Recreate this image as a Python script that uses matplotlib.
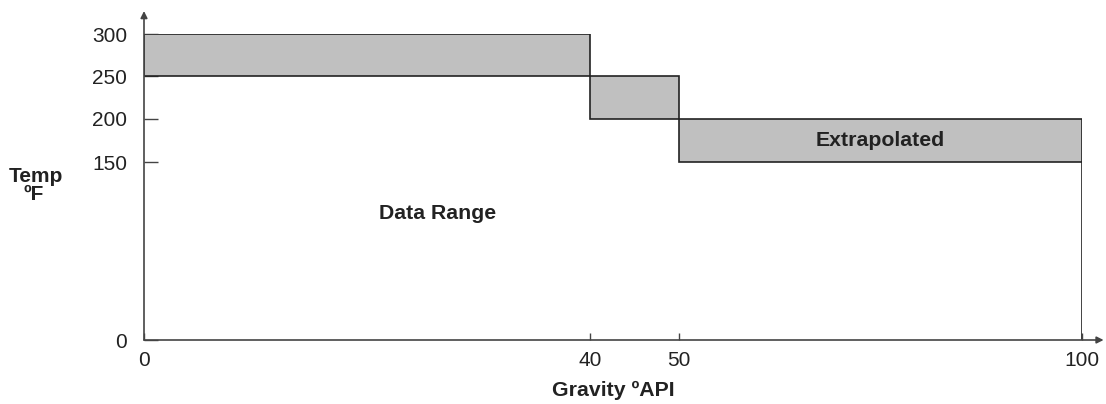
import numpy as np
import matplotlib
matplotlib.use("Agg")
import matplotlib.pyplot as plt
from matplotlib.patches import Rectangle

# ---- data ----
gravity_ticks = [0, 40, 50, 100]
temp_ticks = [0, 150, 200, 250, 300]
# ranges: (gravity_lo, gravity_hi, temp_lo, temp_hi)
range_gravity_lo = [0, 40, 50]
range_gravity_hi = [40, 50, 100]
range_temp_lo = [250, 200, 150]
range_temp_hi = [300, 250, 200]
label_data = "Data Range"
label_extra = "Extrapolated"

# ---- non-uniform axis scales (as drawn in the reference) ----
x_knots = np.array([0, 40, 50, 100], float)
x_pos = np.array([0, 446, 535, 938], float)
y_knots = np.array([0, 150, 200, 250, 300], float)
y_pos = np.array([0, 178, 221, 264, 306], float)


def pw(a, b):
    def f(v):
        v = np.asarray(v, float)
        out = np.interp(v, a, b)
        lo = v < a[0]
        hi = v > a[-1]
        s0 = (b[1] - b[0]) / (a[1] - a[0])
        s1 = (b[-1] - b[-2]) / (a[-1] - a[-2])
        out = np.where(lo, b[0] + (v - a[0]) * s0, out)
        out = np.where(hi, b[-1] + (v - a[-1]) * s1, out)
        return out
    return f


plt.rcParams['font.family'] = ['Liberation Sans', 'DejaVu Sans']
fig = plt.figure(figsize=(11.06, 4.04), dpi=100)
W, H = 1106, 404
ax = fig.add_axes([144 / W, (H - 340) / H, 938 / W, 306 / H])
ax.set_xscale('function', functions=(pw(x_knots, x_pos), pw(x_pos, x_knots)))
ax.set_yscale('function', functions=(pw(y_knots, y_pos), pw(y_pos, y_knots)))
ax.set_xlim(0, 100)
ax.set_ylim(0, 300)

for s in ax.spines.values():
    s.set_visible(False)

edge = '#222222'
for x0, x1, y0, y1 in zip(range_gravity_lo, range_gravity_hi, range_temp_lo, range_temp_hi):
    ax.add_patch(Rectangle((x0, y0), x1 - x0, y1 - y0, facecolor='#c0c0c0',
                           edgecolor=edge, linewidth=1.2, zorder=2))

# right boundary of extrapolated region down to the axis
ax.plot([range_gravity_hi[-1]] * 2, [0, range_temp_lo[-1]], color=edge, lw=1.2, zorder=2)

# axes with arrows
axis_col = '#444444'
ax.annotate('', xy=(1.023, 0), xytext=(0, 0), xycoords='axes fraction',
            arrowprops=dict(arrowstyle='-|>', color=axis_col, lw=1.2, mutation_scale=10,
                            shrinkA=0, shrinkB=0), annotation_clip=False)
ax.annotate('', xy=(0, 1.075), xytext=(0, 0), xycoords='axes fraction',
            arrowprops=dict(arrowstyle='-|>', color=axis_col, lw=1.2, mutation_scale=10,
                            shrinkA=0, shrinkB=0), annotation_clip=False)

ax.set_xticks(gravity_ticks)
ax.set_xticklabels([str(v) for v in gravity_ticks])
ax.set_yticks(temp_ticks)
ax.set_yticklabels([str(v) for v in temp_ticks])
ax.tick_params(axis='x', direction='in', length=5, width=1, color=axis_col,
               pad=8, labelsize=15, labelcolor='#222222')
ax.tick_params(axis='y', direction='in', length=10, width=1, color=axis_col,
               pad=12, labelsize=15, labelcolor='#222222')

ax.set_xlabel('Gravity ºAPI', fontsize=15.3, fontweight='bold', color='#222222', labelpad=8)

fig.text(36 / W, 1 - 177 / H, 'Temp', ha='center', va='center', fontsize=15,
         fontweight='bold', color='#222222')
fig.text(34 / W, 1 - 194 / H, 'ºF', ha='center', va='center', fontsize=15,
         fontweight='bold', color='#222222')

ax.text(26.3, 107, label_data, ha='center', va='center', fontsize=15.3,
        fontweight='bold', color='#222222')
ax.text(75, 175, label_extra, ha='center', va='center', fontsize=15.3,
        fontweight='bold', color='#222222', zorder=3)

fig.savefig('out.png', dpi=100)
